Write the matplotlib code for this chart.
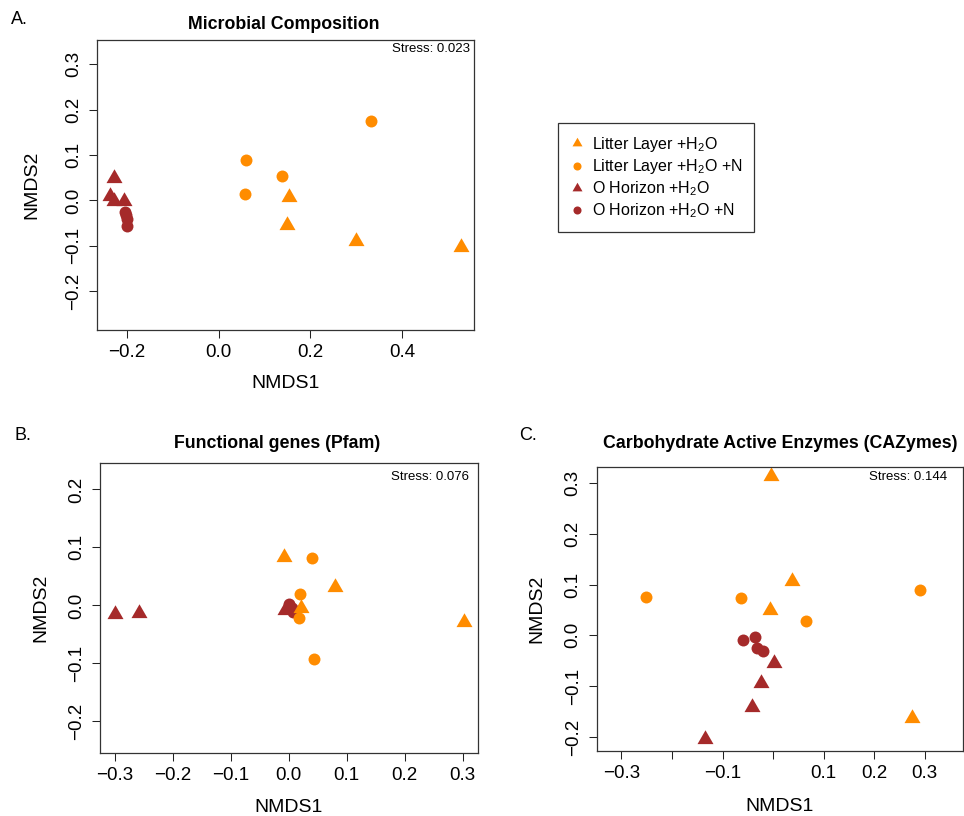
import numpy as np
import matplotlib
matplotlib.use("Agg")
import matplotlib.pyplot as plt
from matplotlib.lines import Line2D

plt.rcParams['font.family'] = ['Liberation Sans', 'DejaVu Sans']
plt.rcParams['mathtext.fontset'] = 'custom'
plt.rcParams['mathtext.rm'] = 'Liberation Sans'
plt.rcParams['mathtext.it'] = 'Liberation Sans:italic'
plt.rcParams['mathtext.bf'] = 'Liberation Sans:bold'

ORANGE = '#FF8C00'   # darkorange
DARKRED = '#A52A2A'  # brown

groups = ['Litter Layer +H$_\\mathregular{2}$O',
          'Litter Layer +H$_\\mathregular{2}$O +N',
          'O Horizon +H$_\\mathregular{2}$O',
          'O Horizon +H$_\\mathregular{2}$O +N']

# Panel A: microbial composition
a_oh_tri_x = [-0.229, -0.236, -0.229, -0.207]
a_oh_tri_y = [0.050, 0.009, -0.002, -0.002]
a_oh_cir_x = [-0.203, -0.201, -0.200, -0.199]
a_oh_cir_y = [-0.025, -0.033, -0.040, -0.056]
a_ll_tri_x = [0.153, 0.149, 0.300, 0.529]
a_ll_tri_y = [0.007, -0.053, -0.090, -0.103]
a_ll_cir_x = [0.0605, 0.0576, 0.138, 0.333]
a_ll_cir_y = [0.088, 0.015, 0.054, 0.174]
a_stress = 0.023

# Panel B: functional genes (Pfam)
b_oh_tri_x = [-0.300, -0.2585, -0.006, 0.004]
b_oh_tri_y = [-0.014, -0.013, -0.008, -0.006]
b_oh_cir_x = [0.000, 0.003, 0.006, 0.008]
b_oh_cir_y = [0.003, -0.002, -0.004, -0.012]
b_ll_tri_x = [-0.0075, 0.0795, 0.302, 0.021]
b_ll_tri_y = [0.084, 0.032, -0.028, -0.005]
b_ll_cir_x = [0.041, 0.019, 0.017, 0.044]
b_ll_cir_y = [0.082, 0.019, -0.022, -0.093]
b_stress = 0.076

# Panel C: CAZymes
c_oh_tri_x = [0.001, -0.023, -0.042, -0.1355]
c_oh_tri_y = [-0.055, -0.094, -0.1416, -0.2045]
c_oh_cir_x = [-0.0586, -0.0355, -0.0316, -0.0197]
c_oh_cir_y = [-0.010, -0.004, -0.0256, -0.030]
c_ll_tri_x = [-0.005, 0.0375, -0.0066, 0.275]
c_ll_tri_y = [0.313, 0.107, 0.050, -0.162]
c_ll_cir_x = [-0.252, -0.0625, 0.0645, 0.291]
c_ll_cir_y = [0.075, 0.073, 0.028, 0.090]
c_stress = 0.144

a_xticks = [-0.2, 0.0, 0.2, 0.4]
a_yticks = [-0.2, -0.1, 0.0, 0.1, 0.2, 0.3]
b_xticks = [-0.3, -0.2, -0.1, 0.0, 0.1, 0.2, 0.3]
b_yticks = [-0.2, -0.1, 0.0, 0.1, 0.2]
c_xticks = [-0.3, -0.2, -0.1, 0.0, 0.1, 0.2, 0.3]
c_xticklabels = ['\u22120.3', '', '\u22120.1', '', '0.1', '0.2', '0.3']
c_yticks = [-0.2, -0.1, 0.0, 0.1, 0.2, 0.3]

# equilateral triangle (like R pch 17), centred on centroid
TRI = [(0, 1), (-0.866, -0.5), (0.866, -0.5)]
TRI_MS = 13.3
CIR_MS = 8.6

W, H = 964, 816
fig = plt.figure(figsize=(W / 100, H / 100), dpi=100)


def px_axes(left, top, right, bottom):
    return fig.add_axes([left / W, 1 - bottom / H, (right - left) / W, (bottom - top) / H])


def fmt(v):
    s = f"{v:.1f}"
    return s.replace('-', '\u2212')


def panel(ax, pts, xlim, ylim, xticks, yticks, title, title_x, title_y,
          letter, letter_xy, stress, stress_off, xl_off, yl_off, xticklabels=None):
    (ohtx, ohty), (ohcx, ohcy), (lltx, llty), (llcx, llcy) = pts
    ax.plot(ohtx, ohty, linestyle='none', marker=TRI, ms=TRI_MS, color=DARKRED, mec='none')
    ax.plot(ohcx, ohcy, linestyle='none', marker='o', ms=CIR_MS, color=DARKRED, mec='none')
    ax.plot(lltx, llty, linestyle='none', marker=TRI, ms=TRI_MS, color=ORANGE, mec='none')
    ax.plot(llcx, llcy, linestyle='none', marker='o', ms=CIR_MS, color=ORANGE, mec='none')
    ax.set_xlim(xlim)
    ax.set_ylim(ylim)
    ax.set_xticks(xticks)
    ax.set_xticklabels(xticklabels if xticklabels is not None else [fmt(v) for v in xticks])
    ax.set_yticks(yticks)
    ax.set_yticklabels([fmt(v) for v in yticks], rotation=90, va='center')
    ax.tick_params(direction='out', length=5.8, width=0.75, labelsize=13.5,
                   colors='#222222', labelcolor='black')
    ax.tick_params(axis='x', pad=4.2)
    ax.tick_params(axis='y', pad=5.0)
    for sp in ax.spines.values():
        sp.set_linewidth(0.9)
        sp.set_color('#333333')
    ax.set_xlabel('NMDS1', fontsize=14)
    ax.set_ylabel('NMDS2', fontsize=14)
    ax.xaxis.label.set_va('center')
    ax.yaxis.label.set_va('center')
    bb = ax.get_position()
    wpx, hpx = bb.width * W, bb.height * H
    ax.xaxis.set_label_coords(0.5, -xl_off / hpx)
    ax.yaxis.set_label_coords(-yl_off / wpx, 0.5)
    ax.text(title_x, title_y, title, transform=ax.transAxes, ha='center', va='center',
            fontsize=12.8, fontweight='bold')
    fig.text(letter_xy[0] / W, 1 - letter_xy[1] / H, letter, ha='left', va='center', fontsize=13)
    ax.annotate(f"Stress: {stress:.3f}", xy=(1, 1), xycoords='axes fraction',
                xytext=(-stress_off[0], -stress_off[1]), textcoords='offset pixels',
                ha='right', va='center', fontsize=9.5)


axA = px_axes(97, 40, 474, 330)
panel(axA, [(a_oh_tri_x, a_oh_tri_y), (a_oh_cir_x, a_oh_cir_y),
            (a_ll_tri_x, a_ll_tri_y), (a_ll_cir_x, a_ll_cir_y)],
      (-0.265, 0.557), (-0.285, 0.353), a_xticks, a_yticks,
      'Microbial Composition', 0.496, 1.055, 'A.', (11, 20), a_stress,
      (4, 8.7), 53, 65)

axB = px_axes(100.3, 463.3, 477.7, 753.3)
panel(axB, [(b_oh_tri_x, b_oh_tri_y), (b_oh_cir_x, b_oh_cir_y),
            (b_ll_tri_x, b_ll_tri_y), (b_ll_cir_x, b_ll_cir_y)],
      (-0.325, 0.326), (-0.255, 0.245), b_xticks, b_yticks,
      'Functional genes (Pfam)', 0.4695, 1.0666, 'B.', (14, 435), b_stress,
      (8.4, 13.4), 54, 59)

axC = px_axes(596.7, 466.7, 963, 750.7)
panel(axC, [(c_oh_tri_x, c_oh_tri_y), (c_oh_cir_x, c_oh_cir_y),
            (c_ll_tri_x, c_ll_tri_y), (c_ll_cir_x, c_ll_cir_y)],
      (-0.349, 0.376), (-0.227, 0.332), c_xticks, c_yticks,
      'Carbohydrate Active Enzymes (CAZymes)', 0.5, 1.08, 'C.', (519, 435), c_stress,
      (16, 10), 56, 60, xticklabels=c_xticklabels)

handles = [
    Line2D([], [], linestyle='none', marker=TRI, ms=8.3, color=ORANGE, mec='none'),
    Line2D([], [], linestyle='none', marker='o', ms=5.8, color=ORANGE, mec='none'),
    Line2D([], [], linestyle='none', marker=TRI, ms=8.3, color=DARKRED, mec='none'),
    Line2D([], [], linestyle='none', marker='o', ms=5.8, color=DARKRED, mec='none'),
]
leg = fig.legend(handles, groups, loc='upper left', bbox_to_anchor=(558 / W, 1 - 123 / H),
                 frameon=True, fancybox=False, edgecolor='#333333', framealpha=1,
                 borderaxespad=0, fontsize=11.5, handlelength=0.9, handletextpad=0.45,
                 labelspacing=0.2, borderpad=0.75)
leg.get_frame().set_linewidth(0.9)

plt.savefig('out.png', dpi=100)
plt.close()
print("Plot saved to out.png")
